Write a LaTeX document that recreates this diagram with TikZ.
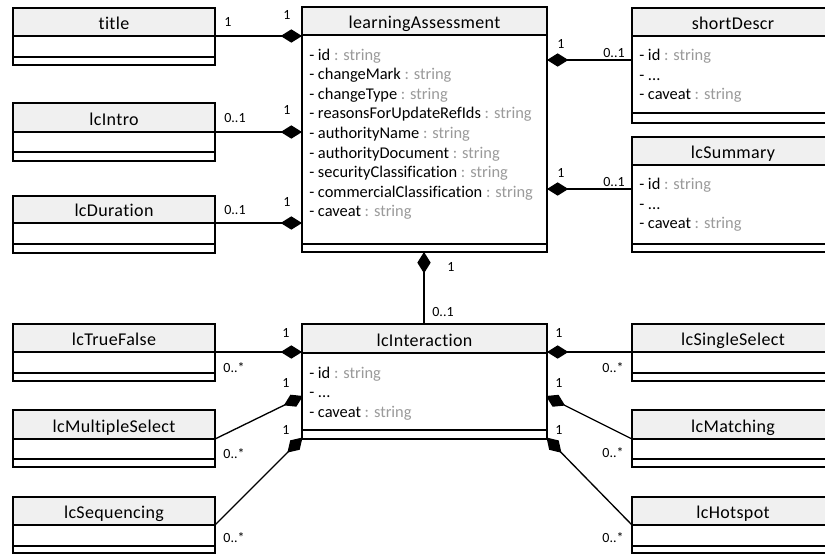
\documentclass[tikz,border=0pt]{standalone}
\usepackage{fontspec}
\setmainfont{Carlito}[Ligatures=NoCommon]
\usetikzlibrary{arrows.meta}
\pgfdeclarelayer{links}
\pgfsetlayers{links,main}
\definecolor{headfill}{HTML}{F0F0F0}
\definecolor{typegray}{HTML}{9A9A9A}

\tikzset{
  frame/.style={draw=black, line width=1pt},
  classname/.style={font=\fontsize{13.5}{15}\selectfont\addfontfeatures{LetterSpace=2}, inner sep=0pt, anchor=base},
  attrtext/.style={font=\fontsize{12.3}{14}\selectfont, inner sep=0pt, anchor=base west},
  mult/.style={font=\fontsize{10.5}{12}\selectfont, inner sep=0pt},
  compose/.style={draw=black, line width=1pt, line join=miter,
    -{Diamond[length=16pt,width=10pt]}},
}

% class box: #1 name, #2 left, #3 top, #4 width,
% #5 header bottom, #6 separator, #7 bottom, #8 class name
\newcommand{\umlclass}[8]{%
  \fill[white] (#2,#3) rectangle ({#2+#4},#7);
  \fill[headfill] (#2,#3) rectangle ({#2+#4},#5);
  \draw[frame] (#2,#3) rectangle ({#2+#4},#7);
  \draw[frame] (#2,#5) -- ({#2+#4},#5);
  \draw[frame] (#2,#6) -- ({#2+#4},#6);
  \node[classname] (#1) at ({#2+#4/2},{#5-6.5}) {#8};
  \coordinate (#1-hw) at (#2,#5);
  \coordinate (#1-he) at ({#2+#4},#5);
}
% attribute line: #1 name, #2 x, #3 baseline y, #4 field, #5 type
\newcommand{\umlattr}[5]{%
  \node[attrtext] (#1) at (#2,#3) {- #4\ifx\relax#5\relax\else\ \textcolor{typegray}{: #5}\fi};
}

\begin{document}
\begin{tikzpicture}[x=0.75pt,y=-0.75pt]
\useasboundingbox (0,0) rectangle (825,554);

% ---- classes ----
\umlclass{title}{13}{8}{202}{36}{57}{65}{title}
\umlclass{intro}{13}{103}{202}{132}{152}{161}{lcIntro}
\umlclass{duration}{13}{196}{202}{223}{244}{253}{lcDuration}

\umlclass{la}{302}{7}{245}{35}{244}{252}{learningAssessment}
\umlattr{la1}{309}{60}{id}{string}
\umlattr{la2}{309}{79.6}{changeMark}{string}
\umlattr{la3}{309}{99.2}{changeType}{string}
\umlattr{la4}{309}{118.8}{reasonsForUpdateRefIds}{string}
\umlattr{la5}{309}{138.4}{authorityName}{string}
\umlattr{la6}{309}{158}{authorityDocument}{string}
\umlattr{la7}{309}{177.6}{securityClassification}{string}
\umlattr{la8}{309}{197.2}{commercialClassification}{string}
\umlattr{la9}{309}{216.8}{caveat}{string}

\umlclass{sd}{632}{8}{202}{36}{113}{123}{shortDescr}
\umlattr{sd1}{639}{60.5}{id}{string}
\umlattr{sd2}{639}{80}{...}{}
\umlattr{sd3}{639}{99.5}{caveat}{string}

\umlclass{summary}{632}{137}{202}{165}{244}{252}{lcSummary}
\umlattr{su1}{639}{189.5}{id}{string}
\umlattr{su2}{639}{209}{...}{}
\umlattr{su3}{639}{228.5}{caveat}{string}

\umlclass{ia}{302}{324}{245}{353}{430}{439}{lcInteraction}
\umlattr{ia1}{309}{378}{id}{string}
\umlattr{ia2}{309}{397.5}{...}{}
\umlattr{ia3}{309}{417}{caveat}{string}

\umlclass{tf}{13}{324}{202}{352}{373}{381}{lcTrueFalse}
\umlclass{ms}{13}{410}{202}{439}{459}{467}{lcMultipleSelect}
\umlclass{seq}{13}{497}{202}{525}{546}{553}{lcSequencing}

\umlclass{ss}{632}{324}{202}{352}{373}{381}{lcSingleSelect}
\umlclass{mat}{632}{410}{202}{439}{459}{467}{lcMatching}
\umlclass{hot}{632}{497}{202}{525}{546}{553}{lcHotspot}

% ---- connector ends on the owning classes ----
\coordinate (la-p1) at (302,36);
\coordinate (la-p2) at (302,132);
\coordinate (la-p3) at (302,223);
\coordinate (la-p4) at (547,60);
\coordinate (la-p5) at (547,189);
\coordinate (la-p6) at (424,252);
\coordinate (sd-p) at (632,60);
\coordinate (su-p) at (632,189);
\coordinate (ia-top) at (424,324);
\coordinate (ia-p1) at (302,352);
\coordinate (ia-p2) at (303,396);
\coordinate (ia-p3) at (302.5,437.5);
\coordinate (ia-p4) at (547,352);
\coordinate (ia-p5) at (546,396);
\coordinate (ia-p6) at (546.5,437.5);

% ---- compositions ----
\begin{pgfonlayer}{links}
\draw[compose] (title-he) -- (la-p1);
\draw[compose] (intro-he) -- (la-p2);
\draw[compose] (duration-he) -- (la-p3);
\draw[compose] (sd-p) -- (la-p4);
\draw[compose] (su-p) -- (la-p5);
\draw[compose] (ia-top) -- (la-p6);
\draw[compose] (tf-he) -- (ia-p1);
\draw[compose] (ms-he) -- (ia-p2);
\draw[compose] (seq-he) -- (ia-p3);
\draw[compose] (ss-hw) -- (ia-p4);
\draw[compose] (mat-hw) -- (ia-p5);
\draw[compose] (hot-hw) -- (ia-p6);
\end{pgfonlayer}

% ---- multiplicities ----
\node[mult] (m1) at (228,22) {1};
\node[mult] (m2) at (287,15) {1};
\node[mult] (m3) at (235,118) {0..1};
\node[mult] (m4) at (287,110) {1};
\node[mult] (m5) at (235,210) {0..1};
\node[mult] (m6) at (287,202) {1};
\node[mult] (m7) at (561,44) {1};
\node[mult] (m8) at (614,53) {0..1};
\node[mult] (m9) at (561,173) {1};
\node[mult] (m10) at (614,182) {0..1};
\node[mult] (m11) at (451,267) {1};
\node[mult] (m12) at (443,312) {0..1};
\node[mult] (m13) at (286,333) {1};
\node[mult] (m14) at (234,368) {0..*};
\node[mult] (m15) at (286,383) {1};
\node[mult] (m16) at (234,454) {0..*};
\node[mult] (m17) at (286,430) {1};
\node[mult] (m18) at (234,538) {0..*};
\node[mult] (m19) at (559,333) {1};
\node[mult] (m20) at (613,368) {0..*};
\node[mult] (m21) at (559,383) {1};
\node[mult] (m22) at (613,453) {0..*};
\node[mult] (m23) at (559,430) {1};
\node[mult] (m24) at (613,538) {0..*};
\end{tikzpicture}
\end{document}
